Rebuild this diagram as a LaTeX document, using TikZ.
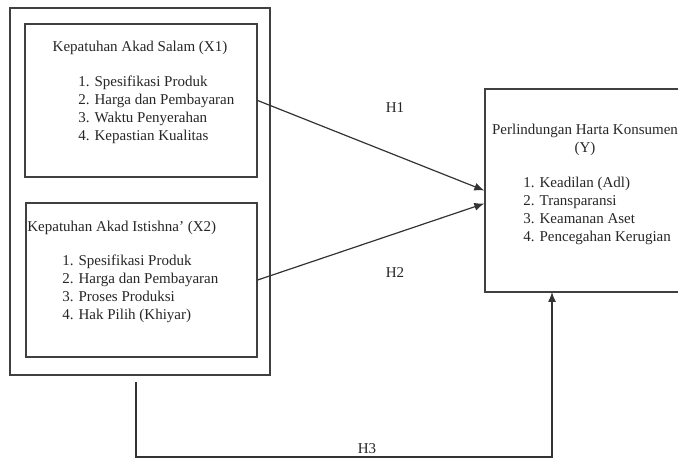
\documentclass[tikz,border=0pt]{standalone}
\usepackage{fontspec}
\setmainfont{Liberation Serif}
\usetikzlibrary{arrows.meta,positioning,calc}

\tikzset{
  box/.style={draw=black!75,line width=0.65pt,inner sep=0pt},
  txt/.style={font=\fontsize{7.5}{9}\selectfont,inner sep=0pt,text=black!85},
  listtxt/.style={txt,align=left,anchor=north west},
  link/.style={draw=black!80,line width=0.6pt,-{Latex[length=5pt,width=4pt]}}
}

\begin{document}
\begin{tikzpicture}[x=0.5pt,y=-0.5pt]
    \useasboundingbox (0,0) rectangle (678,458);
    \clip (0,0) rectangle (678,458);
    % left group with the two independent variables
    \node[box,minimum width=130pt,minimum height=183.5pt] (outer) at (140,191.5) {};
    \node[box,minimum width=116pt,minimum height=76.5pt] (salam) at (141,100.5) {};
    \node[box,minimum width=115.5pt,minimum height=77pt] (istishna) at (141.5,280) {};
    % dependent variable (cut at the right edge)
    \node[box,minimum width=107.5pt,minimum height=101.5pt] (konsumen) at (592.5,190.5) {};
    % box texts
    \node[txt] (salamtitle) at (140,48) {Kepatuhan Akad Salam (X1)};
    \node[listtxt] (salamlist) at (78,76) {1. Spesifikasi Produk\\2. Harga dan Pembayaran\\3. Waktu Penyerahan\\4. Kepastian Kualitas};
    \node[txt,anchor=west] (istishnatitle) at (27,228) {Kepatuhan Akad Istishna' (X2)};
    \node[listtxt] (istishnalist) at (62,255) {1. Spesifikasi Produk\\2. Harga dan Pembayaran\\3. Proses Produksi\\4. Hak Pilih (Khiyar)};
    \node[txt,align=center] (konsumentitle) at (585,140) {Perlindungan Harta Konsumen\\(Y)};
    \node[listtxt] (konsumenlist) at (523,177) {1. Keadilan (Adl)\\2. Transparansi\\3. Keamanan Aset\\4. Pencegahan Kerugian};
    % hypotheses
    \draw[link] (salam.east) -- (konsumen.west);
    \draw[link] (istishna.east) -- ([yshift=-6.5pt]konsumen.west);
    \node[txt] (h1) at (395,108) {H1};
    \node[txt] (h2) at (395,273) {H2};
    \coordinate (h3start) at (136,382);
    \coordinate (h3end) at (552,292);
    \draw[link] (h3start) -- ++(0,75) -| (h3end);
    \node[txt] (h3) at (367,449) {H3};
\end{tikzpicture}
\end{document}
